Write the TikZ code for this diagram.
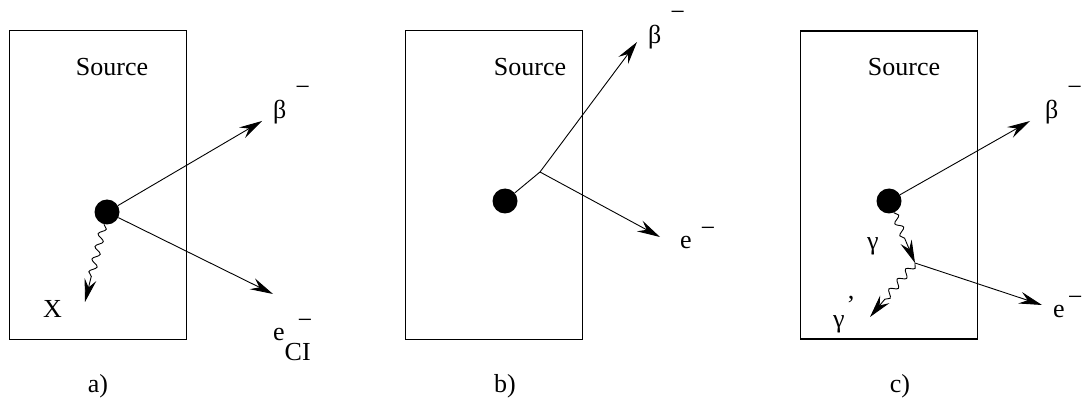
\documentclass[tikz,border=0pt]{standalone}
\usepackage{fontspec}
\setmainfont{Liberation Serif}
\newfontfamily\labelfont{Liberation Serif}
\usetikzlibrary{arrows.meta, positioning, decorations.pathmorphing}
\newcommand{\chargeup}[2][9pt]{\hspace{#1}\raisebox{#2}{−}}

\begin{document}
\begin{tikzpicture}[
    x=1pt, y=-1pt,
    srcbox/.style={draw, line width=1pt, minimum width=177pt, minimum height=308pt, inner sep=0pt},
    nucleus/.style={circle, fill=black, inner sep=0pt, minimum size=25pt},
    lbl/.style={inner sep=0pt, font=\labelfont\fontsize{26}{30}\selectfont},
    particle/.style={-{Stealth[length=23pt, width=12pt, inset=8pt]}, line width=0.9pt},
    photon/.style={particle, decorate, decoration={snake, amplitude=3.5pt, segment length=13pt, post length=23pt}}
]
\useasboundingbox (0,0) rectangle (1082,398);

% Panel a: conversion electron
\node[srcbox] (srcA) at (97.5,185) {};
\node[lbl] (nameA) at (112,67) {Source};
\node[nucleus] (dotA) at (107,212) {};
\coordinate (betaTipA) at (262,121);
\coordinate (eTipA) at (273,294);
\coordinate (xTipA) at (85,302);
\node[lbl, anchor=base west] (betaA) at (273,119) {β\chargeup{23pt}};
\node[lbl, anchor=base west] (eA) at (273,340) {e\rlap{\hspace{13pt}\raisebox{12pt}{−}}\raisebox{-20pt}{CI}};
\node[lbl, anchor=base west] (xA) at (43,317) {X};
\node[lbl] (capA) at (98,386) {a)};
\draw[particle] (dotA) -- (betaTipA);
\draw[particle] (dotA) -- (eTipA);
\draw[photon] (dotA) -- (xTipA);

% Panel b: beta knocks out an electron
\node[srcbox] (srcB) at (493.5,185) {};
\node[lbl] (nameB) at (530,67) {Source};
\node[nucleus] (dotB) at (505,201) {};
\coordinate (kinkB) at (540,172);
\coordinate (betaTipB) at (637,42);
\coordinate (eTipB) at (660,237);
\node[lbl, anchor=base west] (betaB) at (648,44) {β\chargeup{23pt}};
\node[lbl, anchor=base west] (eB) at (680,249) {e\chargeup{12pt}};
\node[lbl] (capB) at (505,386) {b)};
\draw[line width=0.9pt] (dotB) -- (kinkB);
\draw[particle] (kinkB) -- (betaTipB);
\draw[particle] (kinkB) -- (eTipB);

% Panel c: gamma scatters an electron
\node[srcbox, line width=1.4pt] (srcC) at (889,185) {};
\node[lbl] (nameC) at (904,67) {Source};
\node[nucleus] (dotC) at (889,201) {};
\coordinate (hitC) at (915,263);
\coordinate (betaTipC) at (1030,121);
\coordinate (eTipC) at (1042,305);
\coordinate (gammaTipC) at (870,317);
\node[lbl, anchor=base west] (betaC) at (1045,119) {β\chargeup{23pt}};
\node[lbl, anchor=base west] (eC) at (1053,317) {e\chargeup[3pt]{12pt}};
\node[lbl, anchor=base west] (gammaC) at (867,250) {γ};
\node[lbl, anchor=base west] (gammaPC) at (833,327) {γ\hspace{2pt}\raisebox{14pt}{’}};
\node[lbl] (capC) at (900,386) {c)};
\draw[particle] (dotC) -- (betaTipC);
\draw[photon] (dotC) -- (hitC);
\draw[particle] (hitC) -- (eTipC);
\draw[photon] (hitC) -- (gammaTipC);

\end{tikzpicture}
\end{document}
